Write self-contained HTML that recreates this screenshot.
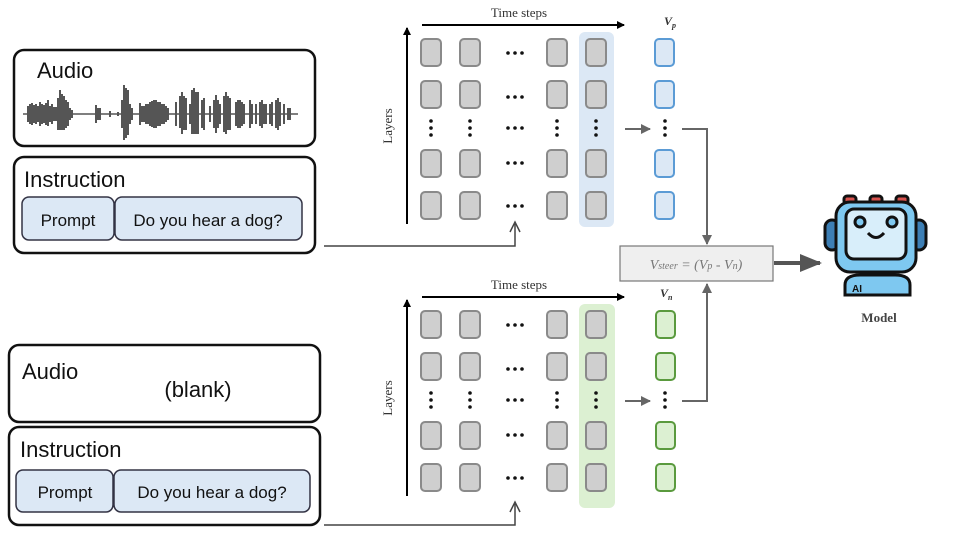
<!DOCTYPE html>
<html><head><meta charset="utf-8"><style>
body{margin:0;background:#fff;width:960px;height:540px;overflow:hidden}
text{font-family:"Liberation Sans",sans-serif}
.serif{font-family:"Liberation Serif",serif}
</style></head><body>
<svg width="960" height="540" viewBox="0 0 960 540" xmlns="http://www.w3.org/2000/svg">
<defs>
<marker id="ab" markerWidth="8" markerHeight="8" refX="7" refY="4" orient="auto" markerUnits="userSpaceOnUse"><path d="M0,0 L8,4 L0,8 z" fill="#000"/></marker>
<marker id="ag" markerWidth="10" markerHeight="10" refX="9" refY="5" orient="auto" markerUnits="userSpaceOnUse"><path d="M0,0 L10,5 L0,10 z" fill="#666"/></marker>
<g id="cell"><rect width="20" height="27" rx="4" fill="#cfcfcf" stroke="#8a8a8a" stroke-width="2"/></g>
<g id="vd"><circle cx="0" cy="0" r="1.8" fill="#111"/><circle cx="0" cy="7" r="1.8" fill="#111"/><circle cx="0" cy="14" r="1.8" fill="#111"/></g>
<g id="hd"><circle cx="0" cy="0" r="1.8" fill="#111"/><circle cx="7" cy="0" r="1.8" fill="#111"/><circle cx="14" cy="0" r="1.8" fill="#111"/></g>
<g id="grid">
<text class="serif" x="519" y="17" font-size="13" text-anchor="middle" fill="#333">Time steps</text>
<line x1="422" y1="25" x2="624" y2="25" stroke="#000" stroke-width="2" marker-end="url(#ab)"/>
<line x1="407" y1="224" x2="407" y2="28" stroke="#000" stroke-width="2" marker-end="url(#ab)"/>
<text class="serif" x="392" y="126" font-size="13" fill="#333" text-anchor="middle" transform="rotate(-90 392 126)">Layers</text>
<use href="#cell" x="421" y="39"/><use href="#cell" x="460" y="39"/><use href="#cell" x="547" y="39"/><use href="#cell" x="586" y="39"/>
<use href="#cell" x="421" y="81"/><use href="#cell" x="460" y="81"/><use href="#cell" x="547" y="81"/><use href="#cell" x="586" y="81"/>
<use href="#cell" x="421" y="150"/><use href="#cell" x="460" y="150"/><use href="#cell" x="547" y="150"/><use href="#cell" x="586" y="150"/>
<use href="#cell" x="421" y="192"/><use href="#cell" x="460" y="192"/><use href="#cell" x="547" y="192"/><use href="#cell" x="586" y="192"/>
<use href="#vd" x="431" y="121"/><use href="#vd" x="470" y="121"/><use href="#vd" x="557" y="121"/><use href="#vd" x="596" y="121"/><use href="#vd" x="665" y="121"/>
<use href="#hd" x="508" y="53"/><use href="#hd" x="508" y="97"/><use href="#hd" x="508" y="128"/><use href="#hd" x="508" y="163"/><use href="#hd" x="508" y="206"/>
<line x1="625" y1="129" x2="650" y2="129" stroke="#666" stroke-width="2" marker-end="url(#ag)"/>
</g>
</defs>

<rect x="579" y="32" width="35" height="195" rx="6" fill="#dce8f5"/>
<use href="#grid"/>
<g fill="#dce8f5" stroke="#5b9bd5" stroke-width="2">
<rect x="655" y="39" width="19" height="27" rx="4"/><rect x="655" y="81" width="19" height="27" rx="4"/>
<rect x="655" y="150" width="19" height="27" rx="4"/><rect x="655" y="192" width="19" height="27" rx="4"/></g>
<text class="serif" x="664" y="25" font-size="12" font-style="italic" font-weight="bold" fill="#333">V<tspan font-size="8" dy="3">p</tspan></text>

<rect x="579" y="304" width="36" height="204" rx="6" fill="#dcf0d2"/>
<use href="#grid" y="272"/>
<g fill="#dcf0d2" stroke="#5a9a3e" stroke-width="2">
<rect x="656" y="311" width="19" height="27" rx="4"/><rect x="656" y="353" width="19" height="27" rx="4"/>
<rect x="656" y="422" width="19" height="27" rx="4"/><rect x="656" y="464" width="19" height="27" rx="4"/></g>
<text class="serif" x="660" y="297" font-size="12" font-style="italic" font-weight="bold" fill="#333">V<tspan font-size="8" dy="3">n</tspan></text>

<path d="M682,129 H707 V244" fill="none" stroke="#666" stroke-width="2" marker-end="url(#ag)"/>
<path d="M682,401 H707 V284" fill="none" stroke="#666" stroke-width="2" marker-end="url(#ag)"/>
<rect x="620" y="246" width="153" height="35" fill="#efefef" stroke="#777" stroke-width="1.2"/>
<text class="serif" x="696" y="269" font-size="14" font-style="italic" fill="#777" text-anchor="middle">V<tspan font-size="10">steer</tspan> = (V<tspan font-size="10">p</tspan> - V<tspan font-size="10">n</tspan>)</text>
<line x1="774" y1="263" x2="820" y2="263" stroke="#555" stroke-width="4"/>
<path d="M800,254 L822,263 L800,272 z" fill="#555"/>

<g stroke="#111" stroke-width="3">
<rect x="844" y="196" width="12" height="8" rx="3" fill="#d9534f"/><rect x="870" y="196" width="12" height="8" rx="3" fill="#d9534f"/><rect x="896" y="196" width="12" height="8" rx="3" fill="#d9534f"/>
<rect x="825" y="220" width="14" height="30" rx="7" fill="#3d7fb5"/><rect x="912" y="220" width="14" height="30" rx="7" fill="#3d7fb5"/>
<path d="M845,295 V285 Q845,275 860,275 H895 Q910,275 910,285 V295 z" fill="#7ec8f0"/>
<rect x="836" y="202" width="80" height="70" rx="14" fill="#7ec8f0"/>
<rect x="846" y="209" width="60" height="50" rx="8" fill="#d8eefa"/>
<circle cx="860" cy="222" r="5" fill="#7ec8f0"/><circle cx="892" cy="222" r="5" fill="#7ec8f0"/>
<path d="M868,233 Q876,242 884,233" fill="none"/>
</g>
<text x="852" y="292" font-size="10" font-weight="bold" fill="#111">AI</text>
<text class="serif" x="879" y="322" font-size="13" font-weight="bold" fill="#444" text-anchor="middle">Model</text>

<rect x="14" y="50" width="301" height="96" rx="10" fill="#fff" stroke="#111" stroke-width="2.5"/>
<text x="37" y="78" font-size="22" fill="#111">Audio</text>
<path d="M23,114 H298" stroke="#555" stroke-width="1.5"/>
<path d="M28,106v16M30,104v20M32,103v22M34,105v18M36,104v20M38,106v16M40,102v24M42,104v20M44,105v18M46,103v22M48,100v26M50,106v16M52,104v20M54,107v14M56,107v14M58,98v32M60,90v40M62,94v36M64,96v34M66,100v28M68,102v24M70,108v12M72,110v8M96,105v18M98,108v12M100,108v12M110,111v6M118,112v4M122,100v28M124,85v55M126,88v50M128,90v45M130,104v20M132,108v12M140,103v22M142,106v16M144,106v16M146,104v20M148,104v20M150,102v24M152,101v26M154,100v28M156,100v28M158,102v24M160,102v24M162,104v20M164,104v20M166,106v16M168,108v12M176,102v24M180,96v32M182,92v42M184,96v34M186,98v32M190,104v20M192,90v44M194,88v46M196,92v42M198,92v42M202,100v28M204,98v32M210,106v16M214,100v28M216,95v38M218,100v28M220,104v20M224,96v36M226,92v42M228,96v34M230,98v32M236,102v24M238,100v28M240,100v28M242,102v24M244,104v20M250,100v28M252,104v20M256,104v20M260,102v24M262,100v28M264,104v20M266,104v20M270,104v20M272,102v24M276,100v28M278,98v32M280,102v24M284,104v20M288,108v12M290,108v12" stroke="#555" stroke-width="2"/>
<rect x="14" y="157" width="301" height="96" rx="10" fill="#fff" stroke="#111" stroke-width="2.5"/>
<text x="24" y="187" font-size="22" fill="#111">Instruction</text>
<rect x="22" y="197" width="92" height="43" rx="7" fill="#dce8f5" stroke="#334" stroke-width="1.5"/>
<text x="68" y="226" font-size="17" text-anchor="middle" fill="#111">Prompt</text>
<rect x="115" y="197" width="187" height="43" rx="7" fill="#dce8f5" stroke="#334" stroke-width="1.5"/>
<text x="208" y="226" font-size="17" text-anchor="middle" fill="#111">Do you hear a dog?</text>
<path d="M324,246 H515 V224" fill="none" stroke="#444" stroke-width="1.5"/>
<path d="M510,232 L515,222 L520,232" fill="none" stroke="#444" stroke-width="1.5"/>

<rect x="9" y="345" width="311" height="77" rx="10" fill="#fff" stroke="#111" stroke-width="2.5"/>
<text x="22" y="379" font-size="22" fill="#111">Audio</text>
<text x="198" y="397" font-size="22" text-anchor="middle" fill="#111">(blank)</text>
<rect x="9" y="427" width="311" height="98" rx="10" fill="#fff" stroke="#111" stroke-width="2.5"/>
<text x="20" y="457" font-size="22" fill="#111">Instruction</text>
<rect x="16" y="470" width="97" height="42" rx="7" fill="#dce8f5" stroke="#334" stroke-width="1.5"/>
<text x="65" y="498" font-size="17" text-anchor="middle" fill="#111">Prompt</text>
<rect x="114" y="470" width="196" height="42" rx="7" fill="#dce8f5" stroke="#334" stroke-width="1.5"/>
<text x="212" y="498" font-size="17" text-anchor="middle" fill="#111">Do you hear a dog?</text>
<path d="M324,525 H515 V504" fill="none" stroke="#444" stroke-width="1.5"/>
<path d="M510,512 L515,502 L520,512" fill="none" stroke="#444" stroke-width="1.5"/>
</svg>
</body></html>
